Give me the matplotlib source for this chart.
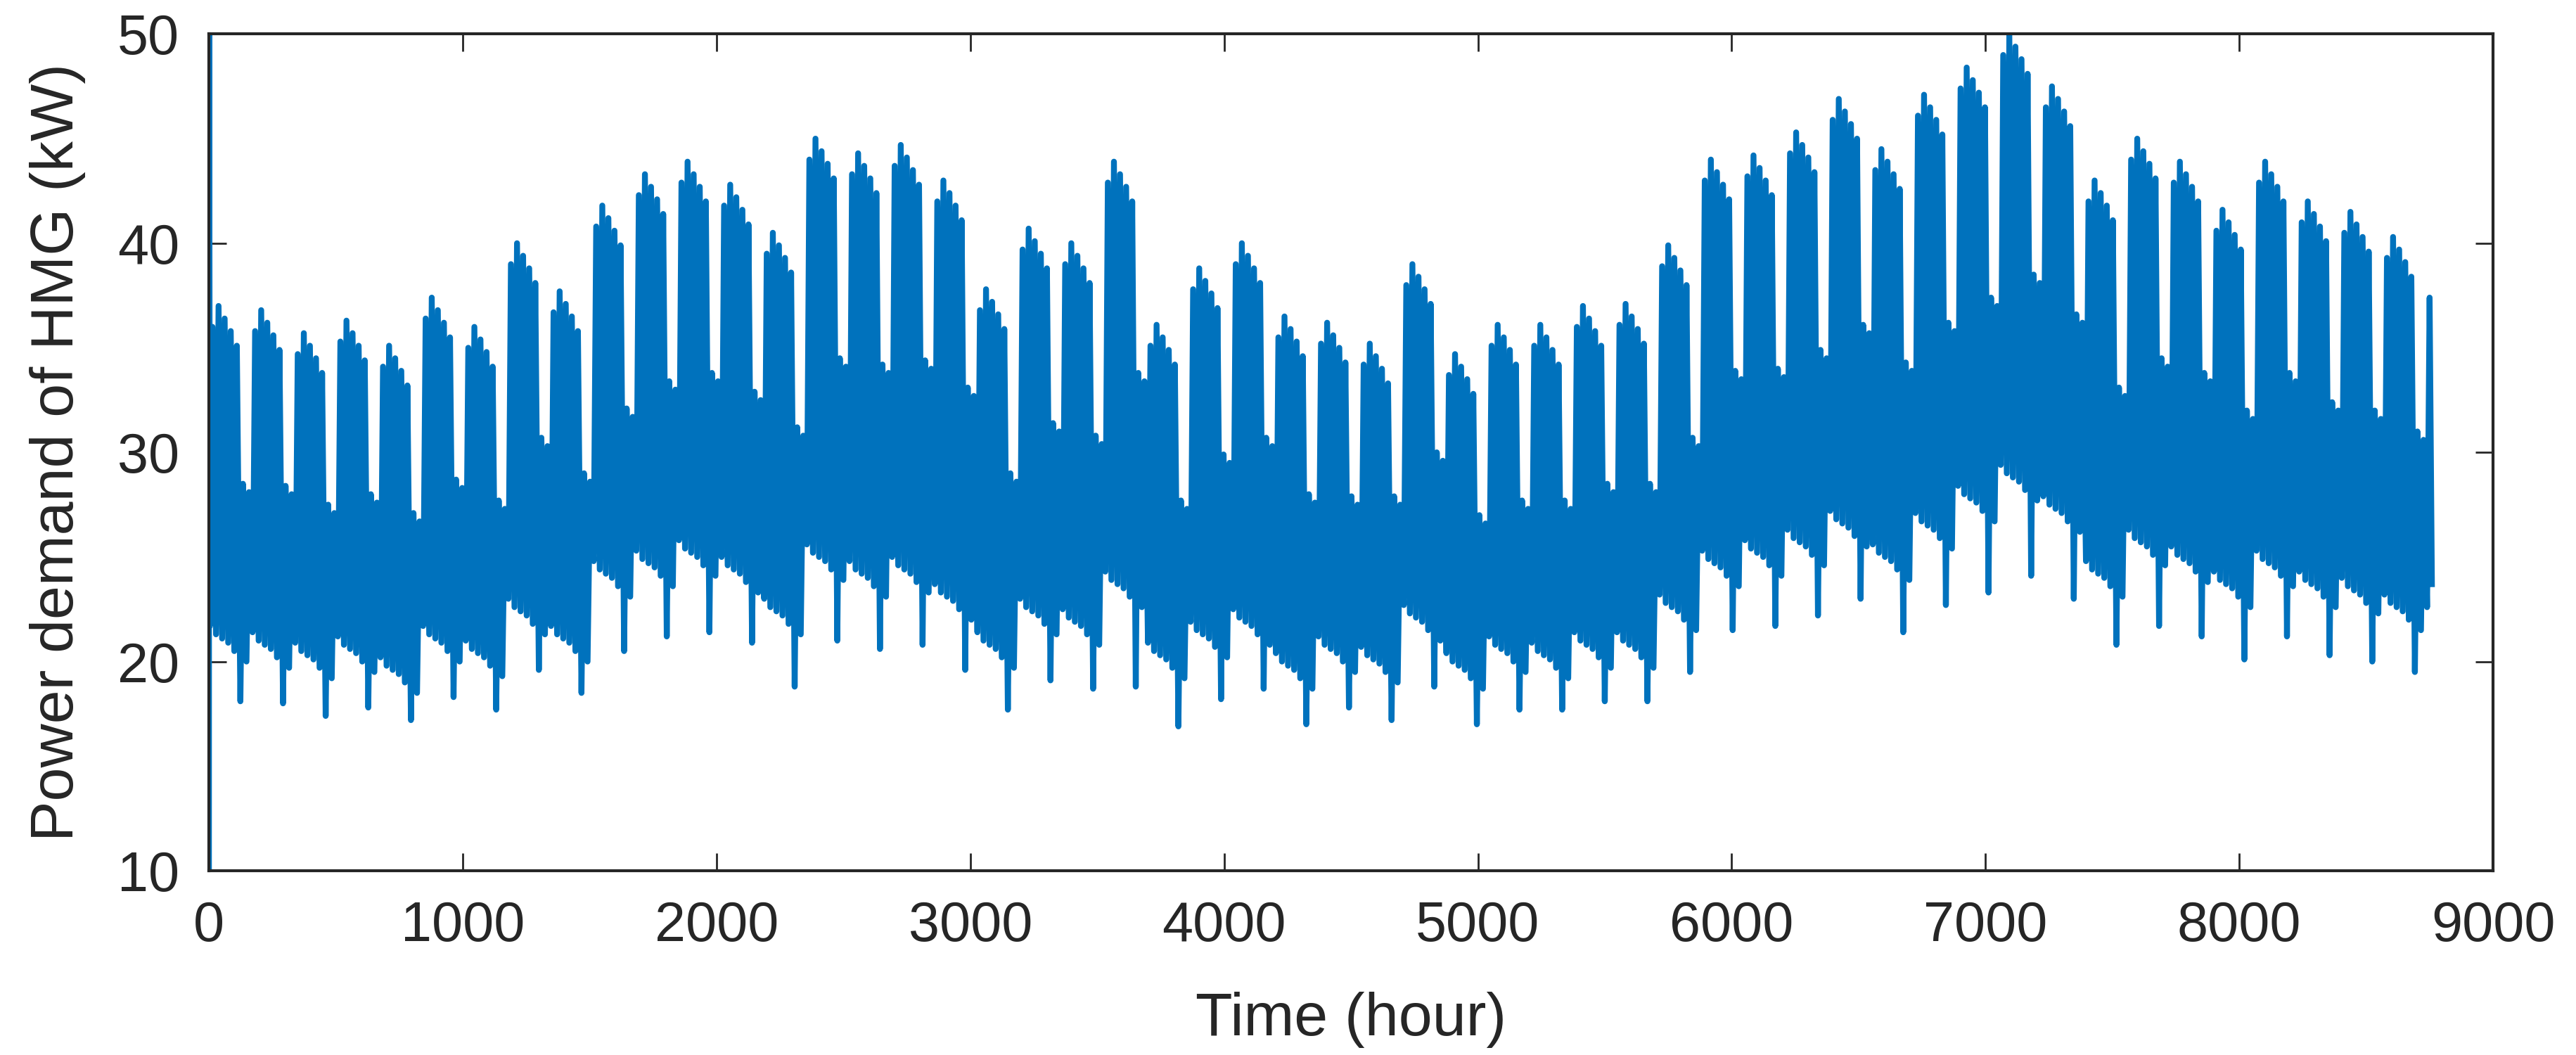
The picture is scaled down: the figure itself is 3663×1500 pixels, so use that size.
"""Hourly power demand of the HMG over one year."""

import numpy as np
import matplotlib

matplotlib.use("Agg")
import matplotlib.pyplot as plt

# daily peak demand (kW), one row per week (Mon..Sun)
daily_max = [
    [36.0, 37.0, 36.4, 35.8, 35.1, 28.5, 28.1],
    [35.8, 36.8, 36.2, 35.6, 34.9, 28.4, 28.0],
    [34.7, 35.7, 35.1, 34.5, 33.8, 27.5, 27.1],
    [35.3, 36.3, 35.7, 35.1, 34.4, 28.0, 27.6],
    [34.1, 35.1, 34.5, 33.9, 33.2, 27.1, 26.7],
    [36.4, 37.4, 36.8, 36.2, 35.5, 28.7, 28.3],
    [35.0, 36.0, 35.4, 34.8, 34.1, 27.7, 27.3],
    [39.0, 40.0, 39.4, 38.8, 38.1, 30.7, 30.3],
    [36.7, 37.7, 37.1, 36.5, 35.8, 29.0, 28.6],
    [40.8, 41.8, 41.2, 40.6, 39.9, 32.1, 31.7],
    [42.3, 43.3, 42.7, 42.1, 41.4, 33.4, 33.0],
    [42.9, 43.9, 43.3, 42.7, 42.0, 33.8, 33.4],
    [41.8, 42.8, 42.2, 41.6, 40.9, 32.9, 32.5],
    [39.5, 40.5, 39.9, 39.3, 38.6, 31.2, 30.8],
    [44.0, 45.0, 44.4, 43.8, 43.1, 34.5, 34.1],
    [43.3, 44.3, 43.7, 43.1, 42.4, 34.2, 33.8],
    [43.7, 44.7, 44.1, 43.5, 42.8, 34.4, 34.0],
    [42.0, 43.0, 42.4, 41.8, 41.1, 33.1, 32.7],
    [36.8, 37.8, 37.2, 36.6, 35.9, 29.0, 28.6],
    [39.7, 40.7, 40.1, 39.5, 38.8, 31.4, 31.0],
    [39.0, 40.0, 39.4, 38.8, 38.1, 30.8, 30.4],
    [42.9, 43.9, 43.3, 42.7, 42.0, 33.8, 33.4],
    [35.1, 36.1, 35.5, 34.9, 34.2, 27.7, 27.3],
    [37.8, 38.8, 38.2, 37.6, 36.9, 29.9, 29.5],
    [39.0, 40.0, 39.4, 38.8, 38.1, 30.7, 30.3],
    [35.5, 36.5, 35.9, 35.3, 34.6, 28.0, 27.6],
    [35.2, 36.2, 35.6, 35.0, 34.3, 27.9, 27.5],
    [34.2, 35.2, 34.6, 34.0, 33.3, 27.9, 27.5],
    [38.0, 39.0, 38.4, 37.8, 37.1, 30.0, 29.6],
    [33.7, 34.7, 34.1, 33.5, 32.8, 27.0, 26.6],
    [35.1, 36.1, 35.5, 34.9, 34.2, 27.7, 27.3],
    [35.1, 36.1, 35.5, 34.9, 34.2, 27.7, 27.3],
    [36.0, 37.0, 36.4, 35.8, 35.1, 28.5, 28.1],
    [36.1, 37.1, 36.5, 35.9, 35.2, 28.5, 28.1],
    [38.9, 39.9, 39.3, 38.7, 38.0, 30.7, 30.3],
    [43.0, 44.0, 43.4, 42.8, 42.1, 33.9, 33.5],
    [43.2, 44.2, 43.6, 43.0, 42.3, 34.0, 33.6],
    [44.3, 45.3, 44.7, 44.1, 43.4, 34.9, 34.5],
    [45.9, 46.9, 46.3, 45.7, 45.0, 36.1, 35.7],
    [43.5, 44.5, 43.9, 43.3, 42.6, 34.3, 33.9],
    [46.1, 47.1, 46.5, 45.9, 45.2, 36.2, 35.8],
    [47.4, 48.4, 47.8, 47.2, 46.5, 37.4, 37.0],
    [49.0, 50.0, 49.4, 48.8, 48.1, 38.5, 38.1],
    [46.5, 47.5, 46.9, 46.3, 45.6, 36.6, 36.2],
    [42.0, 43.0, 42.4, 41.8, 41.1, 33.1, 32.7],
    [44.0, 45.0, 44.4, 43.8, 43.1, 34.5, 34.1],
    [42.9, 43.9, 43.3, 42.7, 42.0, 33.8, 33.4],
    [40.6, 41.6, 41.0, 40.4, 39.7, 32.0, 31.6],
    [42.9, 43.9, 43.3, 42.7, 42.0, 33.8, 33.4],
    [41.0, 42.0, 41.4, 40.8, 40.1, 32.4, 32.0],
    [40.5, 41.5, 40.9, 40.3, 39.6, 32.0, 31.6],
    [39.3, 40.3, 39.7, 39.1, 38.4, 31.0, 30.6],
    [37.4],
]

# daily night-time minimum (kW), same layout
daily_min = [
    [21.7, 21.3, 21.1, 20.9, 20.5, 18.1, 20.0],
    [21.4, 21.0, 20.8, 20.6, 20.2, 18.0, 19.7],
    [20.9, 20.5, 20.3, 20.1, 19.7, 17.4, 19.2],
    [21.2, 20.8, 20.6, 20.4, 20.0, 17.8, 19.5],
    [20.2, 19.8, 19.6, 19.4, 19.0, 17.2, 18.5],
    [21.7, 21.3, 21.1, 20.9, 20.5, 18.3, 20.0],
    [21.0, 20.6, 20.4, 20.2, 19.8, 17.7, 19.3],
    [23.0, 22.6, 22.4, 22.2, 21.8, 19.6, 21.3],
    [21.7, 21.3, 21.1, 20.9, 20.5, 18.5, 20.0],
    [24.8, 24.4, 24.2, 24.0, 23.6, 20.5, 23.1],
    [25.3, 24.9, 24.7, 24.5, 24.1, 21.2, 23.6],
    [25.8, 25.4, 25.2, 25.0, 24.6, 21.4, 24.1],
    [25.0, 24.6, 24.4, 24.2, 23.8, 20.9, 23.3],
    [23.0, 22.6, 22.4, 22.2, 21.8, 18.8, 21.3],
    [25.6, 25.2, 25.0, 24.8, 24.4, 21.0, 23.9],
    [24.8, 24.4, 24.2, 24.0, 23.6, 20.6, 23.1],
    [25.0, 24.6, 24.4, 24.2, 23.8, 20.8, 23.3],
    [23.7, 23.3, 23.1, 22.9, 22.5, 19.6, 22.0],
    [21.4, 21.0, 20.8, 20.6, 20.2, 17.7, 19.7],
    [23.0, 22.6, 22.4, 22.2, 21.8, 19.1, 21.3],
    [22.5, 22.1, 21.9, 21.7, 21.3, 18.7, 20.8],
    [24.3, 23.9, 23.7, 23.5, 23.1, 18.8, 22.6],
    [20.9, 20.5, 20.3, 20.1, 19.7, 16.9, 19.2],
    [21.9, 21.5, 21.3, 21.1, 20.7, 18.2, 20.2],
    [22.5, 22.1, 21.9, 21.7, 21.3, 18.7, 20.8],
    [20.4, 20.0, 19.8, 19.6, 19.2, 17.0, 18.7],
    [21.2, 20.8, 20.6, 20.4, 20.0, 17.8, 19.5],
    [20.7, 20.3, 20.1, 19.9, 19.5, 17.2, 19.0],
    [22.7, 22.3, 22.1, 21.9, 21.5, 18.8, 21.0],
    [20.4, 20.0, 19.8, 19.6, 19.2, 17.0, 18.7],
    [21.2, 20.8, 20.6, 20.4, 20.0, 17.7, 19.5],
    [20.9, 20.5, 20.3, 20.1, 19.7, 17.7, 19.2],
    [21.4, 21.0, 20.8, 20.6, 20.2, 18.1, 19.7],
    [21.4, 21.0, 20.8, 20.6, 20.2, 18.1, 19.7],
    [23.2, 22.8, 22.6, 22.4, 22.0, 19.5, 21.5],
    [25.3, 24.9, 24.7, 24.5, 24.1, 21.5, 23.6],
    [25.8, 25.4, 25.2, 25.0, 24.6, 21.7, 24.1],
    [26.3, 25.9, 25.7, 25.5, 25.1, 22.2, 24.6],
    [27.2, 26.8, 26.6, 26.4, 26.0, 23.0, 25.5],
    [25.6, 25.2, 25.0, 24.8, 24.4, 21.4, 23.9],
    [27.1, 26.7, 26.5, 26.3, 25.9, 22.7, 25.4],
    [28.4, 28.0, 27.8, 27.6, 27.2, 23.3, 26.7],
    [29.4, 29.0, 28.8, 28.6, 28.2, 24.1, 27.7],
    [27.9, 27.5, 27.3, 27.1, 26.7, 23.0, 26.2],
    [24.8, 24.4, 24.2, 24.0, 23.6, 20.8, 23.1],
    [26.3, 25.9, 25.7, 25.5, 25.1, 21.7, 24.6],
    [25.5, 25.1, 24.9, 24.7, 24.3, 21.2, 23.8],
    [24.3, 23.9, 23.7, 23.5, 23.1, 20.1, 22.6],
    [25.3, 24.9, 24.7, 24.5, 24.1, 21.2, 23.6],
    [24.3, 23.9, 23.7, 23.5, 23.1, 20.3, 22.6],
    [24.0, 23.6, 23.4, 23.2, 22.8, 20.0, 22.3],
    [23.2, 22.8, 22.6, 22.4, 22.0, 19.5, 21.5],
    [22.6],
]

start_values = [10.2, 51.0]  # first two hours of the run
end_value = 23.7  # hour 8759

x_ticks = [0, 1000, 2000, 3000, 4000, 5000, 6000, 7000, 8000, 9000]
y_ticks = [10, 20, 30, 40, 50]

plt.rcParams["font.family"] = ["Liberation Sans", "DejaVu Sans"]

lows = np.concatenate([np.asarray(w, dtype=float) for w in daily_min])
highs = np.concatenate([np.asarray(w, dtype=float) for w in daily_max])
day = np.arange(len(highs))
hours = np.column_stack([24 * day + 4, 24 * day + 14]).ravel()
load = np.column_stack([lows, highs]).ravel()
hours = np.concatenate([[0, 1], hours, [8759]])
load = np.concatenate([start_values, load, [end_value]])

fig = plt.figure(figsize=(36.63, 15), dpi=100)
ax = fig.add_axes([0.0811, 0.1747, 0.8867, 0.793])
# wide strokes so the daily swings merge into one band, as in the source
ax.plot(hours, load, color="#0072BD", linewidth=6, solid_joinstyle="round")

ax.set_xlim(0, 9000)
ax.set_ylim(10, 50)
ax.set_xticks(x_ticks)
ax.set_yticks(y_ticks)
ax.tick_params(direction="in", length=18, width=2, top=True, right=True,
               labelsize=57, pad=30, colors="#262626")
for sp in ax.spines.values():
    sp.set_linewidth(3)
    sp.set_color("#262626")

ax.set_xlabel("Time (hour)", fontsize=62, color="#262626")
ax.set_ylabel("Power demand of HMG (kW)", fontsize=62, color="#262626")
ax.xaxis.set_label_coords(0.5, -0.145)
ax.yaxis.set_label_coords(-0.054, 0.5)

fig.savefig("out.png", dpi=100)
plt.close(fig)
